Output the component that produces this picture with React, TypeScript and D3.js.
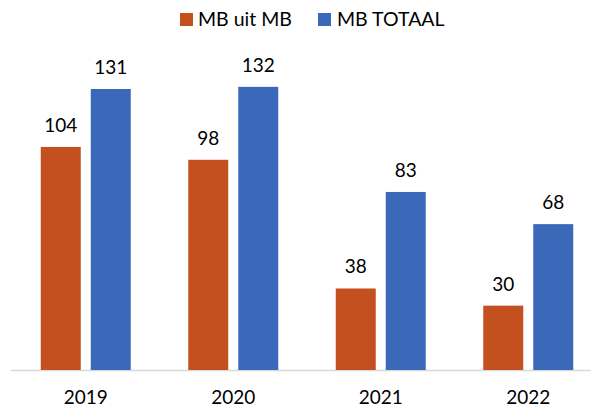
import React from "react";
import * as d3 from "d3";

const years = ["2019", "2020", "2021", "2022"];
const seriesNames = ["MB uit MB", "MB TOTAAL"];
const mbUitMb = [104, 98, 38, 30];
const mbTotaal = [131, 132, 83, 68];
const colors = ["#C4501F", "#3A69B9"];

const W = 591;
const H = 407;
const baseY = 370;

export default function App() {
  const x = d3.scaleBand<string>().domain(years).range([12, 602]).paddingInner(0).paddingOuter(0);
  const inner = d3.scaleBand<string>().domain(seriesNames).range([-45, 45]).paddingInner(0.2).paddingOuter(0);
  const y = d3.scaleLinear().domain([0, 140]).range([baseY, baseY - 140 * 2.145]);
  const series = [mbUitMb, mbTotaal];
  const font = "Lato, 'Open Sans', sans-serif";
  return (
    <svg width={W} height={H} style={{ position: "absolute", left: 0, top: 0, background: "#fff" }} fontFamily={font}>
      <line x1={11} x2={591} y1={baseY + 0.5} y2={baseY + 0.5} stroke="#d9d9d9" strokeWidth={1.5} />
      {years.map((yr, i) => {
        const cx = (x(yr) as number) + x.bandwidth() / 2;
        return (
          <g key={yr}>
            {series.map((s, j) => {
              const bx = cx + (inner(seriesNames[j]) as number);
              const bw = inner.bandwidth();
              return (
                <g key={j}>
                  <rect x={bx} y={y(s[i])} width={bw} height={baseY - y(s[i])} fill={colors[j]} />
                  <text x={bx + bw / 2} y={y(s[i]) - 15} textAnchor="middle" fontSize={19} fill="#000">
                    {s[i]}
                  </text>
                </g>
              );
            })}
            <text x={cx} y={404} textAnchor="middle" fontSize={19} fill="#000">
              {yr}
            </text>
          </g>
        );
      })}
      <g>
        <rect x={180} y={13} width={13} height={13} fill={colors[0]} />
        <text x={198} y={26} fontSize={19.5} fill="#000">{seriesNames[0]}</text>
        <rect x={318} y={13} width={13} height={13} fill={colors[1]} />
        <text x={337} y={26} fontSize={19.5} fill="#000">{seriesNames[1]}</text>
      </g>
    </svg>
  );
}
